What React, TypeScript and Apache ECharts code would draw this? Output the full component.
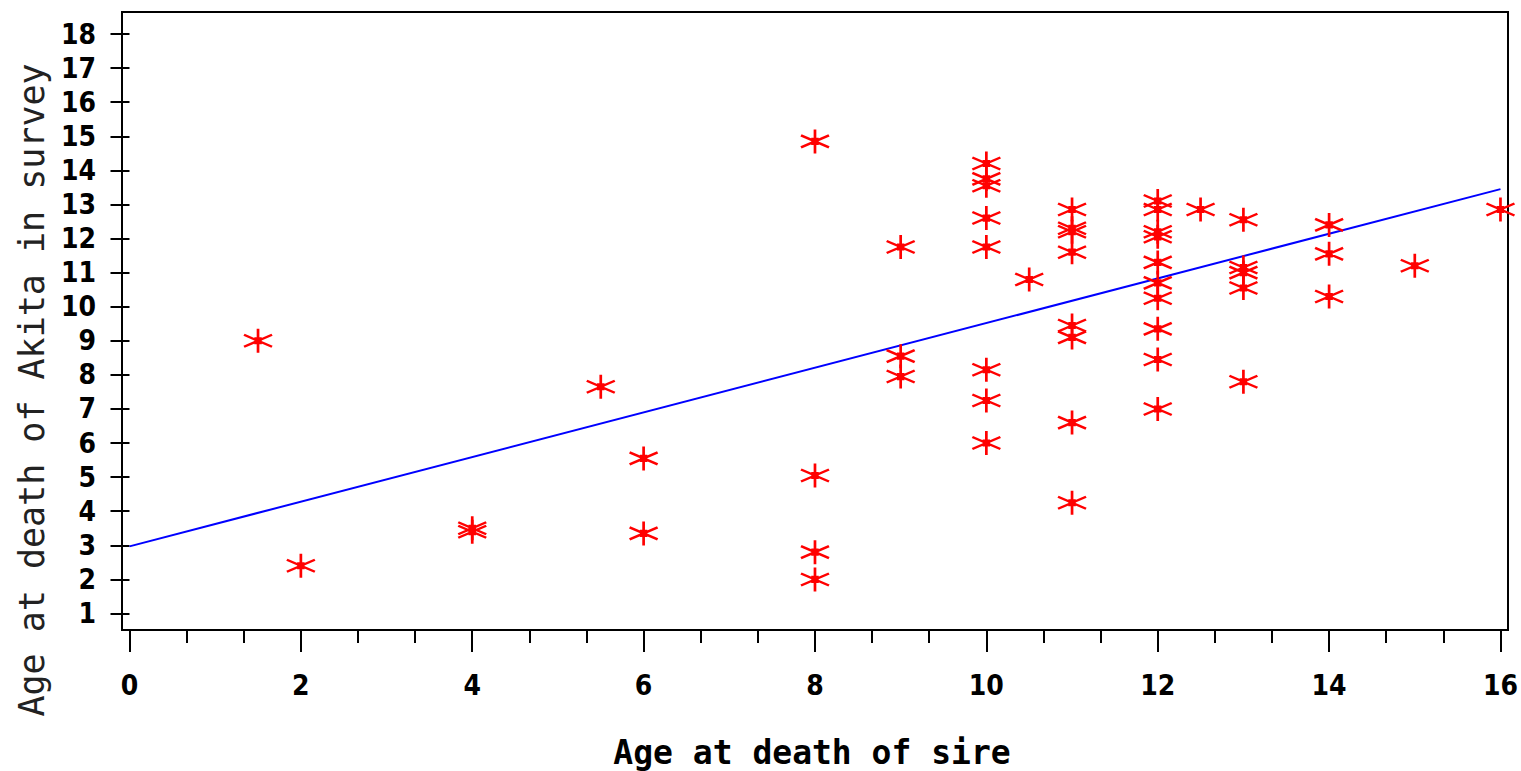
import React, { useEffect, useRef } from "react";
import * as echarts from "echarts";

// Age at death of sire (x) and age at death of Akita in survey (y)
const sireAge = [
  1.5, 2, 4, 4, 5.5, 6, 6,
  8, 8, 8, 8,
  9, 9, 9,
  10, 10, 10, 10, 10, 10, 10, 10,
  10.5,
  11, 11, 11, 11, 11, 11, 11, 11,
  12, 12, 12, 12, 12, 12, 12, 12, 12, 12,
  12.5,
  13, 13, 13, 13, 13,
  14, 14, 14,
  15, 16,
];
const akitaAge = [
  9.0, 2.4, 3.5, 3.4, 7.65, 5.55, 3.35,
  14.85, 5.05, 2.8, 2.0,
  11.75, 8.55, 7.95,
  14.2, 13.75, 13.55, 12.6, 11.75, 8.15, 7.25, 6.0,
  10.8,
  12.85, 12.3, 12.2, 11.6, 9.45, 9.1, 6.6, 4.25,
  13.1, 12.85, 12.2, 12.05, 11.3, 10.7, 10.25, 9.35, 8.45, 7.0,
  12.85,
  12.55, 11.15, 11.0, 10.55, 7.8,
  12.4, 11.55, 10.3,
  11.2, 12.85,
];
// Fitted regression line endpoints
const fitX = [0, 16];
const fitY = [2.97, 13.45];

const xTitle = "Age at death of sire";
const yTitle = "Age at death of Akita in survey";

const STAR =
  "path://M0,-11 L0,11 M-13,-5.5 L13,5.5 M-13,5.5 L13,-5.5 M-2.2,-2.2 L2.2,-2.2 L2.2,2.2 L-2.2,2.2 Z";

const labelFont = "'DejaVu Sans Condensed', 'DejaVu Sans', sans-serif";

export default function App() {
  const ref = useRef<HTMLDivElement>(null);
  useEffect(() => {
    document.body.style.margin = "0";
    const chart = echarts.init(ref.current!, null, { renderer: "svg" });
    const points = sireAge.map((x, i) => [x, akitaAge[i]]);
    const line = fitX.map((x, i) => [x, fitY[i]]);
    chart.setOption({
      animation: false,
      backgroundColor: "#fff",
      grid: { left: 129.5, right: 20.3, top: 34, bottom: 157.5 },
      xAxis: {
        type: "value",
        min: 0,
        max: 16,
        interval: 2,
        offset: 16.5,
        axisLine: { show: false },
        axisTick: { show: true, length: 22, lineStyle: { color: "#000", width: 2 } },
        minorTick: { show: true, splitNumber: 3, length: 13, lineStyle: { color: "#000", width: 2 } },
        splitLine: { show: false },
        axisLabel: {
          margin: 41,
          color: "#000",
          fontFamily: labelFont,
          fontWeight: "bold",
          fontSize: 28,
        },
      },
      yAxis: {
        type: "value",
        min: 1,
        max: 18,
        interval: 1,
        offset: 7.5,
        axisLine: { show: false },
        axisTick: { show: true, length: 19, lineStyle: { color: "#000", width: 2 } },
        splitLine: { show: false },
        axisLabel: {
          margin: 26,
          color: "#000",
          fontFamily: labelFont,
          fontWeight: "bold",
          fontSize: 28,
        },
      },
      graphic: [
        {
          type: "rect",
          shape: { x: 122, y: 12, width: 1386, height: 618 },
          style: { fill: "none", stroke: "#000", lineWidth: 2 },
          silent: true,
        },
        {
          type: "text",
          x: 812,
          y: 752,
          style: {
            text: xTitle,
            fill: "#000",
            font: "bold 33px 'DejaVu Sans Mono'",
            textAlign: "center",
            textVerticalAlign: "middle",
          },
        },
        {
          type: "text",
          x: 32,
          y: 390,
          rotation: Math.PI / 2,
          style: {
            text: yTitle,
            fill: "#222",
            font: "35px 'DejaVu Sans Mono'",
            textAlign: "center",
            textVerticalAlign: "middle",
          },
        },
      ],
      series: [
        {
          type: "line",
          data: line,
          symbol: "none",
          lineStyle: { color: "#0000ff", width: 2 },
          z: 2,
        },
        {
          type: "scatter",
          data: points,
          symbol: STAR,
          symbolSize: [28, 24],
          itemStyle: { color: "#ff0000", borderColor: "#ff0000", borderWidth: 2.5, opacity: 1 },
          z: 3,
        },
      ],
    });
    return () => chart.dispose();
  }, []);
  return <div ref={ref} style={{ position: "fixed", left: 0, top: 0, width: 1521, height: 771 }} />;
}
